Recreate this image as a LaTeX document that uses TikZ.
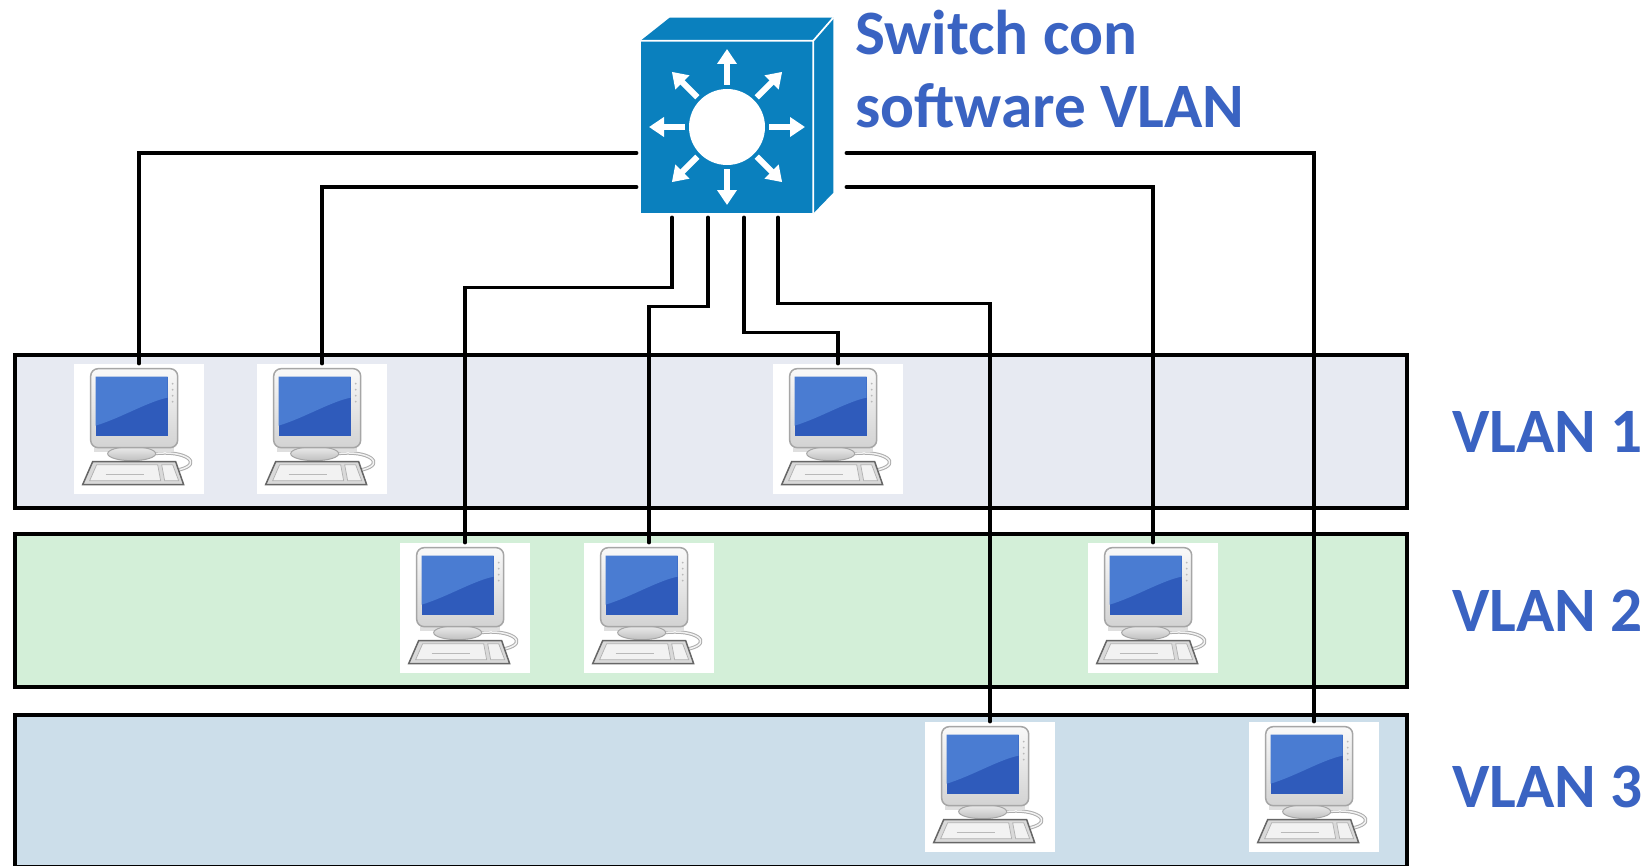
\documentclass[tikz,border=0pt]{standalone}
\usepackage{fontspec}
\setmainfont{Carlito}
\usetikzlibrary{positioning,calc,arrows.meta}
\definecolor{swblue}{HTML}{0A80BE}
\definecolor{labelblue}{HTML}{3A63C2}
\definecolor{vlanone}{HTML}{E7EAF2}
\definecolor{vlantwo}{HTML}{D3EFD8}
\definecolor{vlanthree}{HTML}{CCDEEA}
\definecolor{screenblue}{HTML}{2F5BBB}
\definecolor{screenlight}{HTML}{4A7CD2}
\tikzset{
        % VLAN areas
        node_band/.style={rectangle, draw=black, line width=0.08cm, minimum width=27.84cm, minimum height=3.06cm, inner sep=0pt},
        % White square behind a computer
        node_pc/.style={rectangle, fill=white, minimum size=2.6cm, inner sep=0pt},
        % Front face of the switch
        node_switch/.style={rectangle, fill=swblue, minimum size=3.44cm, inner sep=0pt},
        % Blue texts
        node_label/.style={text=labelblue, inner sep=0pt, font=\fontsize{36pt}{41.5pt}\selectfont\bfseries},
        % Cables
        link/.style={draw=black, line width=0.07cm, line cap=round},
        % Computer icon, drawn from the top left corner of its square
        pics/computer/.style={code={
                % cable
                \draw[gray!65, line width=0.07cm] (80,90) .. controls (112,86) and (130,100) .. (106,106);
                \draw[gray!10, line width=0.03cm] (80,90) .. controls (112,86) and (130,100) .. (106,106);
                % shadow and stand
                \fill[gray!25] (20,84) rectangle (100,88);
                \draw[gray!70, line width=0.02cm, top color=gray!15, bottom color=gray!50] (58,90) ellipse [x radius=24, y radius=7];
                % keyboard
                \draw[gray!80!black, line width=0.03cm, fill=gray!30] (19,98) -- (102,98) -- (110,121) -- (9,121) -- cycle;
                \draw[gray!60, line width=0.015cm, fill=gray!10] (23,101) -- (84,101) -- (87,117) -- (16,117) -- cycle;
                \draw[gray!60, line width=0.015cm, fill=gray!10] (88,101) -- (99,101) -- (105,117) -- (91,117) -- cycle;
                \draw[gray!55, line width=0.015cm] (32,111) -- (70,111);
                % monitor
                \draw[gray!70, line width=0.03cm, rounded corners=0.15cm, top color=gray!5, bottom color=gray!35] (17,5) rectangle (104,84);
                \fill[screenblue] (22,13) rectangle (94,72);
                \fill[screenlight] (22,13) -- (94,13) -- (94,34) .. controls (74,38) and (48,54) .. (22,62) -- cycle;
                \foreach \k in {20,26,32,38} \fill[gray!55] (99,\k) circle [radius=1];
        }}
}

\begin{document}
\begin{tikzpicture}[x=0.02cm, y=-0.02cm]
    \clip (0,0) rectangle (1652,865);
    \fill[white] (0,0) rectangle (1652,865);

    % VLAN areas and their names
    \node[node_band, fill=vlanone] (vlan1) at (711,431.5) {};
    \node[node_band, fill=vlantwo] (vlan2) at (711,610.5) {};
    \node[node_band, fill=vlanthree] (vlan3) at (711,791) {};
    \node[node_label, right=0.86cm of vlan1] (name1) {VLAN 1};
    \node[node_label, right=0.86cm of vlan2] (name2) {VLAN 2};
    \node[node_label, right=0.86cm of vlan3, yshift=0.08cm] (name3) {VLAN 3};

    % Switch
    \node[node_switch] (sw) at (727,127) {};
    \fill[swblue] (sw.north west) -- ++(29,-23) -- ++(163,0) -- (sw.north east) -- cycle;
    \fill[swblue] (sw.north east) -- ++(20,-23) -- ++(0,175) -- (sw.south east) -- cycle;
    \draw[white, line width=0.035cm, line join=round]
        (sw.north west) -- (sw.north east) -- (sw.south east)
        (sw.north east) -- ++(20,-23);
    \fill[white] (sw) circle [radius=38];
    \foreach \a in {0,45,...,315}
        \draw[white, line width=0.12cm, -{Triangle[width=0.38cm,length=0.3cm]}]
            ($(sw)+(\a:42)$) -- ($(sw)+(\a:78)$);
    \node[node_label, align=left, anchor=north west] (swname) at (855,10) {Switch con\\software VLAN};

    % Computers
    \node[node_pc] (p11) at (139,429) {};
    \node[node_pc] (p12) at (322,429) {};
    \node[node_pc] (p13) at (838,429) {};
    \node[node_pc] (p21) at (465,608) {};
    \node[node_pc] (p22) at (649,608) {};
    \node[node_pc] (p23) at (1153,608) {};
    \node[node_pc] (p31) at (990,787) {};
    \node[node_pc] (p32) at (1314,787) {};
    \foreach \p in {p11,p12,p13,p21,p22,p23,p31,p32}
        \pic at (\p.north west) {computer};

    % Cables
    \draw[link] ($(sw.west)+(-4,26)$) -| (p11.north);
    \draw[link] ($(sw.west)+(-4,60)$) -| (p12.north);
    \draw[link] ($(sw.south)+(-55,4)$) -- ++(0,70) -| (p21.north);
    \draw[link] ($(sw.south)+(-19,4)$) -- ++(0,89) -| (p22.north);
    \draw[link] ($(sw.south)+(17,4)$) -- ++(0,115) -| (p13.north);
    \draw[link] ($(sw.south)+(51,4)$) -- ++(0,86) -| (p31.north);
    \draw[link] ($(sw.east)+(33,60)$) -| (p23.north);
    \draw[link] ($(sw.east)+(33,26)$) -| (p32.north);
\end{tikzpicture}
\end{document}
